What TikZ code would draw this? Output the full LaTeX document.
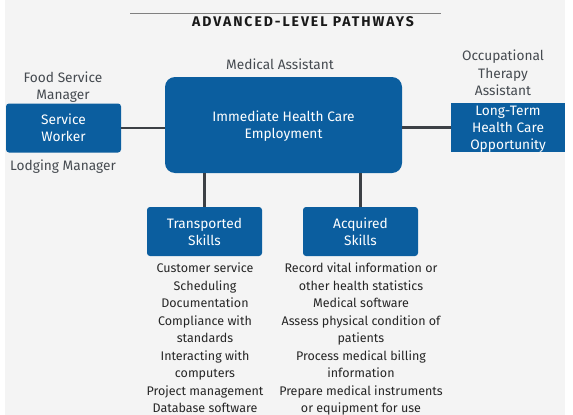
\documentclass[tikz,border=0pt]{standalone}
\usepackage{fontspec}
\setmainfont{Fira Sans}
\usepackage{xcolor}
\usepackage{tikz}
\usetikzlibrary{positioning}
\definecolor{pathblue}{HTML}{0B5E9F}
\definecolor{pagegray}{HTML}{F4F4F4}
\definecolor{linkgray}{HTML}{3C4045}
\definecolor{labelgray}{HTML}{454A50}

\begin{document}
\begin{tikzpicture}[x=1pt, y=-1pt,
  blk/.style={fill=pathblue, text=white, rounded corners=3pt, align=center, inner sep=0pt,
    text depth=0pt, font=\fontsize{13.7}{17}\selectfont},
  role/.style={text=labelgray, align=center, inner sep=0pt, font=\fontsize{13.7}{17.5}\selectfont},
  skills/.style={text=black!85, align=center, inner sep=0pt, anchor=north, font=\fontsize{12.5}{17.5}\selectfont},
  link/.style={draw=linkgray, line width=2.4pt},
]
\useasboundingbox (0,0) rectangle (573,415);
\fill[pagegray] (5,0) rectangle (565,415);
% ---------------- title ----------------
\draw[gray, line width=0.8pt] (130,13) -- (441,13);
\node[inner sep=0pt, text=black!90, font=\fontsize{14}{16}\bfseries\addfontfeatures{LetterSpace=14}] (ttl) at (303,21.5) {ADVANCED-LEVEL PATHWAYS};
% ---------------- boxes ----------------
\node[blk, minimum width=115pt, minimum height=49pt] (sw) at (63.5,128) {Service\\Worker};
\node[blk, rounded corners=10pt, minimum width=237pt, minimum height=96pt] (ihc) at (283.5,125) {Immediate Health Care\\Employment};
\node[blk, rounded corners=0pt, minimum width=114pt, minimum height=49pt] (ltc) at (508,127.5) {Long-Term\\Health Care\\Opportunity};
\node[blk, minimum width=115pt, minimum height=49pt] (trs) at (204.5,231.5) {Transported\\Skills};
\node[blk, minimum width=115pt, minimum height=49pt] (acq) at (360.5,231.5) {Acquired\\Skills};
% ---------------- roles ----------------
\node[role] (fsm) at (63,87) {Food Service\\Manager};
\node[role] (lgm) at (63,167) {Lodging Manager};
\node[role] (mda) at (280,64) {Medical Assistant};
\node[role] (ota) at (503,73) {Occupational\\Therapy\\Assistant};
% ---------------- links ----------------
\draw[link] (sw.east) -- (ihc.west |- sw.east);
\draw[link] (ihc.east |- ltc.west) -- (ltc.west);
\draw[link] (trs.north |- ihc.south) -- (trs.north);
\draw[link] (acq.north |- ihc.south) -- (acq.north);
% ---------------- skill lists ----------------
\node[skills] (trl) at (205,263) {Customer service\\Scheduling\\Documentation\\Compliance with\\standards\\Interacting with\\computers\\Project management\\Database software};
\node[skills] (acl) at (361,263) {Record vital information or\\other health statistics\\Medical software\\Assess physical condition of\\patients\\Process medical billing\\information\\Prepare medical instruments\\or equipment for use};
\end{tikzpicture}
\end{document}
